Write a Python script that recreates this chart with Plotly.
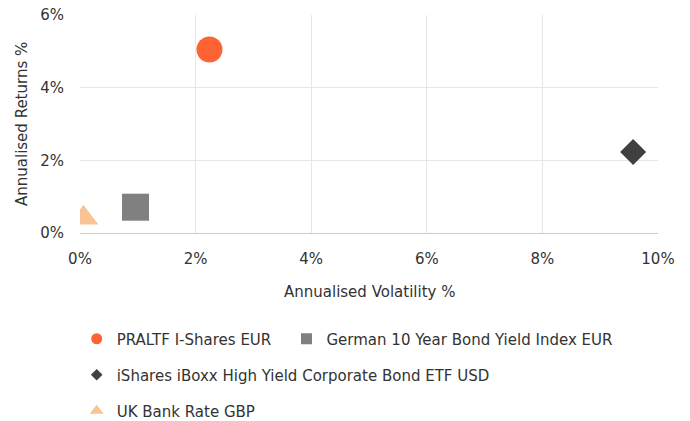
import plotly.graph_objects as go

series_names = ["PRALTF I-Shares EUR", "German 10 Year Bond Yield Index EUR",
                "iShares iBoxx High Yield Corporate Bond ETF USD", "UK Bank Rate GBP"]
volatility = [2.24, 0.96, 9.57, 0.06]
returns = [5.05, 0.71, 2.23, 0.41]
colors = ["#FF6333", "#808080", "#404040", "#FAC393"]
symbols = ["circle", "square", "diamond", "triangle-up"]
plot_sizes = [26, 27, 20, 26]
legend_sizes = [11, 11, 9, 12]
legend_ids = ["legend", "legend2", "legend3", "legend4"]

x_ticks = [0, 2, 4, 6, 8, 10]
y_ticks = [0, 2, 4, 6]

FONT = "DejaVu Sans, Verdana, sans-serif"
FS = 15
TXT = "#333333"

W, H = 690, 421
L, T = 80, 15
R = W - 658
B = H - 233
pw = W - L - R
ph = H - T - B

def px_x(xs):
    return (xs - L) / pw

def px_y(ys):
    return (H - B - ys) / ph

fig = go.Figure()
for i, name in enumerate(series_names):
    fig.add_trace(go.Scatter(
        x=[volatility[i]], y=[returns[i]], mode="markers", name=name,
        marker=dict(symbol=symbols[i], size=plot_sizes[i], color=colors[i], line=dict(width=0)),
        showlegend=False, hoverinfo="name+x+y"))
for i, name in enumerate(series_names):
    fig.add_trace(go.Scatter(
        x=[None], y=[None], mode="markers", name=name, legend=legend_ids[i],
        marker=dict(symbol=symbols[i], size=legend_sizes[i], color=colors[i], line=dict(width=0)),
        showlegend=True))

legend_common = dict(orientation="h", xanchor="left", yanchor="middle",
                     font=dict(family=FONT, size=FS, color=TXT),
                     bgcolor="rgba(0,0,0,0)", itemclick=False, itemdoubleclick=False,
                     xref="container", yref="container")

# screen targets for legend rows (marker centres)
rows = [338, 338, 374, 410]
cols = [96.7, 306.5, 96.7, 96.7]

layout_legends = {}
for i, lid in enumerate(legend_ids):
    xf = cols[i] - 20
    yf = rows[i] + 1
    layout_legends[lid] = dict(x=xf / W, y=1 - yf / H, **legend_common)

fig.update_layout(
    width=W, height=H,
    margin=dict(l=L, r=R, t=T, b=B),
    paper_bgcolor="white", plot_bgcolor="white",
    font=dict(family=FONT, size=FS, color=TXT),
    xaxis=dict(range=[0, 10], tickvals=x_ticks, ticktext=[f"{v}%" for v in x_ticks],
               showgrid=True, gridcolor="#e6e6e6", gridwidth=1, zeroline=False,
               showline=True, linecolor="#cccccc", linewidth=1, ticks="",
               automargin=False, ticklabeloverflow="allow",
               tickfont=dict(family=FONT, size=FS, color=TXT), ticklabelstandoff=12),
    yaxis=dict(range=[0, 6], tickvals=y_ticks, ticktext=[f"{v}%" for v in y_ticks],
               showgrid=True, gridcolor="#e6e6e6", gridwidth=1, zeroline=False,
               showline=False, ticks="", automargin=False, ticklabeloverflow="allow",
               tickfont=dict(family=FONT, size=FS, color=TXT), ticklabelstandoff=15),
    annotations=[
        dict(text="Annualised Volatility %", xref="paper", yref="paper",
             x=0.5, y=px_y(292), showarrow=False, xanchor="center", yanchor="middle",
             font=dict(family=FONT, size=FS, color=TXT)),
        dict(text="Annualised Returns %", xref="paper", yref="paper",
             x=px_x(22), y=0.5, showarrow=False, xanchor="center", yanchor="middle",
             textangle=-90, font=dict(family=FONT, size=FS, color=TXT)),
    ],
    **layout_legends,
)

fig.write_html("out.html", config={"displayModeBar": False},
               post_script="document.body.style.margin='0';document.body.style.overflow='hidden';")
